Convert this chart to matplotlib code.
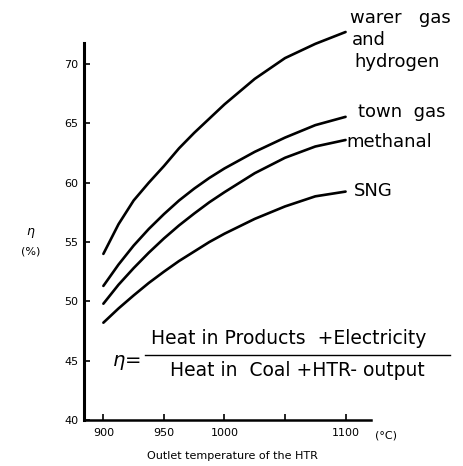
import matplotlib
matplotlib.use("Agg")
import matplotlib.pyplot as plt
from matplotlib.lines import Line2D

plt.rcParams['font.family'] = ['DejaVu Sans']

temps = [900, 912.5, 925, 937.5, 950, 962.5, 975, 987.5, 1000, 1025, 1050, 1075, 1100]
water_gas = [54.0, 56.5, 58.5, 60.0, 61.4, 62.9, 64.2, 65.4, 66.6, 68.75, 70.5, 71.7, 72.7]
town_gas = [51.3, 53.1, 54.7, 56.1, 57.35, 58.5, 59.5, 60.4, 61.2, 62.6, 63.8, 64.85, 65.55]
methanal = [49.8, 51.4, 52.8, 54.1, 55.3, 56.4, 57.4, 58.35, 59.2, 60.8, 62.1, 63.05, 63.6]
sng = [48.2, 49.4, 50.5, 51.55, 52.5, 53.4, 54.2, 55.0, 55.7, 56.95, 58.0, 58.85, 59.25]

xticks = [900, 950, 1000, 1050, 1100]
xtick_labels = ['900', '950', '1000', '', '1100']
yticks = [40, 45, 50, 55, 60, 65, 70]

W, H = 463, 466
fig = plt.figure(figsize=(W / 100, H / 100), dpi=100)

def fx(x):
    return x / W

def fy(y):
    return 1 - y / H

ax = fig.add_axes([fx(84), fy(420), fx(371) - fx(84), fy(22.5) - fy(420)])
ax.set_xlim(884, 1121)
ax.set_ylim(40, 73.5)

for series in (water_gas, town_gas, methanal, sng):
    ax.plot(temps, series, color='black', lw=1.9, solid_capstyle='round',
            solid_joinstyle='round')

for s in ('top', 'right'):
    ax.spines[s].set_visible(False)
ax.spines['left'].set_linewidth(2.2)
ax.spines['bottom'].set_linewidth(1.8)
ax.spines['left'].set_bounds(40, 71.8)

ax.set_xticks(xticks)
ax.set_xticklabels(xtick_labels)
ax.set_yticks(yticks)
ax.tick_params(direction='in', length=4, width=1.2, labelsize=8, pad=4)
ax.tick_params(axis='x', pad=6)

fs = 13
fig.text(fx(350), fy(18), 'warer   gas', fontsize=fs, va='center', ha='left')
fig.text(fx(352), fy(40), 'and', fontsize=fs, va='center', ha='left')
fig.text(fx(354), fy(62), 'hydrogen', fontsize=fs, va='center', ha='left')
fig.text(fx(358), fy(112), 'town  gas', fontsize=fs, va='center', ha='left')
fig.text(fx(346), fy(142), 'methanal', fontsize=fs, va='center', ha='left')
fig.text(fx(354), fy(191), 'SNG', fontsize=fs, va='center', ha='left')

fig.text(fx(375), fy(435), '(\u00b0C)', fontsize=8, va='center', ha='left')
fig.text(fx(232), fy(456), 'Outlet temperature of the HTR', fontsize=8, va='center', ha='center')

fig.text(fx(31), fy(233), r'$\eta$', fontsize=9, va='center', ha='center')
fig.text(fx(31), fy(252), '(%)', fontsize=8, va='center', ha='center')

fig.text(fx(112), fy(363), r'$\eta$=', fontsize=14, va='center', ha='left')
fig.text(fx(289), fy(338), 'Heat in Products  +Electricity', fontsize=13.5, va='center', ha='center')
fig.text(fx(297), fy(371), 'Heat in  Coal +HTR- output', fontsize=13.5, va='center', ha='center')
fig.add_artist(Line2D([fx(145), fx(450)], [fy(355), fy(355)], color='black', lw=1.0,
                      transform=fig.transFigure))

fig.savefig('out.png', dpi=100)
